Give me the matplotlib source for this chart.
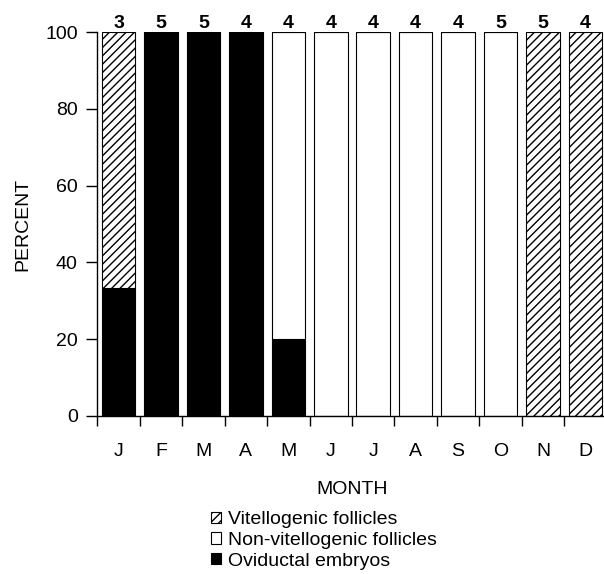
import matplotlib.pyplot as plt
import numpy as np

# Reproductive condition of females by month
months = ['J', 'F', 'M', 'A', 'M', 'J', 'J', 'A', 'S', 'O', 'N', 'D']
n_females = [3, 5, 5, 4, 4, 4, 4, 4, 4, 5, 5, 4]
oviductal = [33.3, 100, 100, 100, 20, 0, 0, 0, 0, 0, 0, 0]
non_vitellogenic = [0, 0, 0, 0, 80, 100, 100, 100, 100, 100, 0, 0]
vitellogenic = [66.7, 0, 0, 0, 0, 0, 0, 0, 0, 0, 100, 100]

plt.rcParams['font.family'] = ['Liberation Sans', 'DejaVu Sans']
plt.rcParams['hatch.linewidth'] = 1.0

W, H = 604, 574
fig = plt.figure(figsize=(W / 100, H / 100), dpi=100)
ax = fig.add_axes([97.3 / W, (H - 415.7) / H, 509.4 / W, 383.5 / H])

x = np.arange(len(months))
w = 0.79
b1 = ax.bar(x, oviductal, w, color='black', edgecolor='black', lw=0.8,
            label='Oviductal embryos')
b2 = ax.bar(x, non_vitellogenic, w, bottom=oviductal, color='white',
            edgecolor='black', lw=0.8, label='Non-vitellogenic follicles')
b3 = ax.bar(x, vitellogenic, w, bottom=np.add(oviductal, non_vitellogenic),
            color='white', edgecolor='black', hatch='////', lw=0.8,
            label='Vitellogenic follicles')

# sample sizes above the bars
for xi, c in zip(x, n_females):
    ax.text(xi, 101.2, str(c), ha='center', va='baseline', fontsize=14,
            fontweight='bold', clip_on=False)

ax.set_xlim(-0.5, 11.5)
ax.set_ylim(0, 100)
ax.set_yticks(np.arange(0, 101, 20))
ax.set_xticks(x, months)
ax.set_xticks(np.arange(-0.5, 12, 1), minor=True)
ax.tick_params(axis='x', which='major', length=0, pad=20, labelsize=14)
ax.tick_params(axis='x', which='minor', length=7, width=1)
ax.tick_params(axis='y', length=8, width=1, pad=6, labelsize=14)

for s in ['top', 'right']:
    ax.spines[s].set_visible(False)
for s in ['left', 'bottom']:
    ax.spines[s].set_linewidth(1)

ax.set_ylabel('PERCENT', fontsize=14, va='baseline')
ax.yaxis.set_label_coords((27 - 97.3) / 509.4, 0.5)
ax.set_xlabel('MONTH', fontsize=14, va='baseline')
ax.xaxis.set_label_coords(0.5, (415.7 - 494) / 383.5)

fig.legend(handles=[b3, b2, b1], loc='upper left',
           bbox_to_anchor=(211 / W, (H - 511) / H), frameon=False,
           fontsize=14, handlelength=0.5, handleheight=0.5,
           handletextpad=0.35, labelspacing=0.2, borderpad=0,
           borderaxespad=0)

fig.savefig('out.png', dpi=100)
